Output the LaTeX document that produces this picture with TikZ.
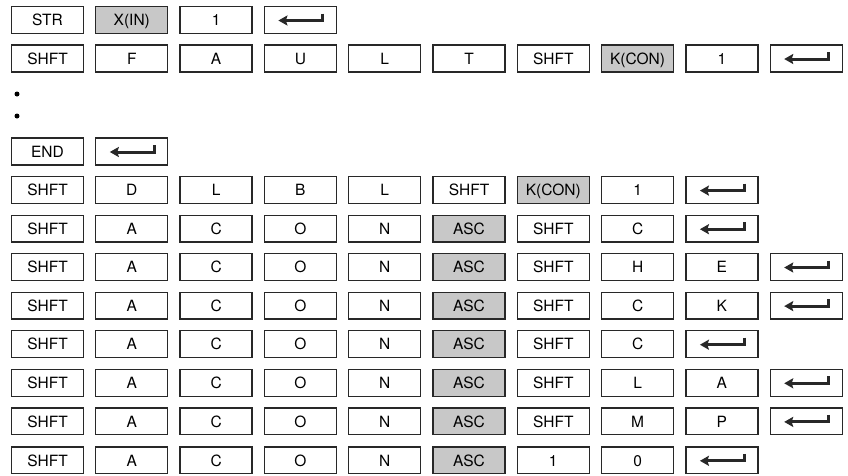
\documentclass[tikz,border=0pt]{standalone}
\usepackage{fontspec}
\setmainfont{TeX Gyre Heros}
\usetikzlibrary{arrows.meta}
\definecolor{keygray}{RGB}{200,200,200}
\definecolor{keyline}{RGB}{40,40,40}
\tikzset{
  keybox/.style={draw=keyline, line width=1.3pt, minimum width=72pt, minimum height=26.8pt,
    inner sep=0pt, text height=11.5pt, text depth=0pt,
    font=\fontsize{15.5}{18}\selectfont, text=black},
  keyw/.style={keybox, fill=white},
  keyg/.style={keybox, fill=keygray},
  entarrow/.style={line width=3pt, line join=miter, -{Stealth[length=9pt,width=10pt,inset=1.5pt]}},
  keye/.style={keybox, fill=white, path picture={
      \draw[entarrow] ([shift={(22.5pt,6.5pt)}]path picture bounding box.center)
        -- ([shift={(22.5pt,-0.5pt)}]path picture bounding box.center)
        -- ([shift={(-22pt,-0.5pt)}]path picture bounding box.center);}},
  dotmark/.style={circle, fill=black, inner sep=0pt, minimum size=5pt}
}
\newcommand\keyrow[3]{%
  \foreach \t/\k [count=\i from 0] in {#3} {
    \node[key\k] (r#1c\i) at (47.5+84.3*\i, #2) {\t};
  }%
}
\begin{document}
\begin{tikzpicture}[x=1pt,y=-1pt]
\useasboundingbox (0,0) rectangle (848,475);
\keyrow{1}{20}{STR/w, X(IN)/g, 1/w, /e}
\keyrow{2}{58.5}{SHFT/w, F/w, A/w, U/w, L/w, T/w, SHFT/w, K(CON)/g, 1/w, /e}
\node[dotmark] (dotA) at (17,94) {};
\node[dotmark] (dotB) at (17,116) {};
\keyrow{3}{151.5}{END/w, /e}
\keyrow{4}{190.1}{SHFT/w, D/w, L/w, B/w, L/w, SHFT/w, K(CON)/g, 1/w, /e}
\keyrow{5}{228.7}{SHFT/w, A/w, C/w, O/w, N/w, ASC/g, SHFT/w, C/w, /e}
\keyrow{6}{267.0}{SHFT/w, A/w, C/w, O/w, N/w, ASC/g, SHFT/w, H/w, E/w, /e}
\keyrow{7}{305.6}{SHFT/w, A/w, C/w, O/w, N/w, ASC/g, SHFT/w, C/w, K/w, /e}
\keyrow{8}{344.2}{SHFT/w, A/w, C/w, O/w, N/w, ASC/g, SHFT/w, C/w, /e}
\keyrow{9}{382.8}{SHFT/w, A/w, C/w, O/w, N/w, ASC/g, SHFT/w, L/w, A/w, /e}
\keyrow{10}{421.4}{SHFT/w, A/w, C/w, O/w, N/w, ASC/g, SHFT/w, M/w, P/w, /e}
\keyrow{11}{460.3}{SHFT/w, A/w, C/w, O/w, N/w, ASC/g, 1/w, 0/w, /e}
\end{tikzpicture}
\end{document}
